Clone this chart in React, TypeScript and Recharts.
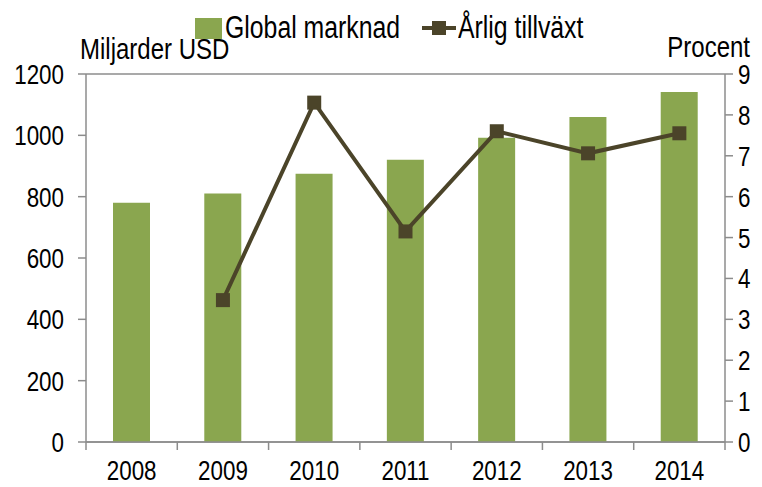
import React from 'react';
import { ComposedChart, Bar, Line, XAxis, YAxis, CartesianGrid, Legend } from 'recharts';

const years = ['2008', '2009', '2010', '2011', '2012', '2013', '2014'];
const marketValues = [780, 810, 875, 920, 992, 1060, 1141];
const growthValues = [null, 3.47, 8.3, 5.15, 7.6, 7.06, 7.55];
const leftTicks = [0, 200, 400, 600, 800, 1000, 1200];
const rightTicks = [0, 1, 2, 3, 4, 5, 6, 7, 8, 9];

const BAR_COLOR = '#8AA64F';
const LINE_COLOR = '#4B4429';
const GRID_COLOR = '#8C8C8C';
const FONT = '"Liberation Sans", Arial, sans-serif';
const SQUEEZE = 0.8; // the original font is condensed

const W = 762;
const H = 487;
const PLOT_LEFT = 86;
const PLOT_RIGHT = 725;
const BAND = (PLOT_RIGHT - PLOT_LEFT) / years.length;

const data = years.map((year, i) => ({
  year,
  market: marketValues[i],
  growth: growthValues[i],
}));

// narrow text: squeeze a normal sans horizontally
const NarrowText = ({ x, y, anchor = 'start', size = 28, dy = 0, children }: any) => (
  <text
    transform={`translate(${x},${y}) scale(${SQUEEZE},1)`}
    textAnchor={anchor}
    dy={dy}
    fontSize={size}
    fontFamily={FONT}
    fill="#000"
  >
    {children}
  </text>
);

// tick marks sit on category boundaries, labels in the middle
const XTick = (props: any) => {
  const { x, y, payload, index } = props;
  const half = BAND / 2;
  return (
    <g>
      <line x1={x - half} y1={y} x2={x - half} y2={y + 8} stroke={GRID_COLOR} strokeWidth={1.5} />
      {index === years.length - 1 && (
        <line x1={x + half} y1={y} x2={x + half} y2={y + 8} stroke={GRID_COLOR} strokeWidth={1.5} />
      )}
      <NarrowText x={x} y={y + 38} anchor="middle">
        {payload.value}
      </NarrowText>
    </g>
  );
};

const LeftTick = (props: any) => {
  const { x, y, payload } = props;
  return (
    <NarrowText x={x} y={y} dy={10} anchor="end">
      {payload.value}
    </NarrowText>
  );
};

const RightTick = (props: any) => {
  const { x, y, payload } = props;
  return (
    <NarrowText x={x} y={y} dy={10} anchor="start">
      {payload.value}
    </NarrowText>
  );
};

const SquareDot = (props: any) => {
  const { cx, cy } = props;
  if (cx == null || cy == null || props.value == null) return null;
  return <rect x={cx - 7} y={cy - 7} width={14} height={14} fill={LINE_COLOR} />;
};

const squeezed = { display: 'inline-block', transform: `scaleX(${SQUEEZE})`, transformOrigin: 'left center' };

const LegendContent = () => (
  <div style={{ display: 'flex', alignItems: 'center', fontFamily: FONT, fontSize: 31, color: '#000', whiteSpace: 'nowrap' }}>
    <span style={{ display: 'inline-block', width: 27, height: 21, background: BAR_COLOR, marginRight: 3 }} />
    <span style={{ display: 'inline-block', width: 197 }}>
      <span style={squeezed}>Global marknad</span>
    </span>
    <svg width={34} height={16} style={{ marginRight: 2 }}>
      <line x1={0} y1={8} x2={34} y2={8} stroke={LINE_COLOR} strokeWidth={4} />
      <rect x={10} y={1} width={14} height={14} fill={LINE_COLOR} />
    </svg>
    <span style={squeezed}>Årlig tillväxt</span>
  </div>
);

const LeftTitle = (props: any) => {
  const { viewBox } = props;
  return (
    <NarrowText x={viewBox.x + 80} y={viewBox.y - 15} size={30}>
      Miljarder USD
    </NarrowText>
  );
};

const RightTitle = (props: any) => {
  const { viewBox } = props;
  return (
    <NarrowText x={viewBox.x + 25} y={viewBox.y - 17} anchor="end" size={30}>
      Procent
    </NarrowText>
  );
};

const App = () => {
  return (
    <div style={{ position: 'absolute', left: 0, top: 0, width: W, height: H, background: '#fff' }}>
      <ComposedChart width={W} height={H} data={data} margin={{ top: 74, right: 0, bottom: 0, left: 0 }}>
        <CartesianGrid vertical={false} stroke={GRID_COLOR} strokeWidth={1.5} />
        <Legend
          verticalAlign="middle"
          align="center"
          content={<LegendContent />}
          wrapperStyle={{ top: 10, left: 195, width: 'auto' }}
        />
        <XAxis
          dataKey="year"
          height={45}
          tickSize={0}
          tickMargin={0}
          tick={<XTick />}
          interval={0}
          axisLine={{ stroke: GRID_COLOR, strokeWidth: 1.5 }}
          tickLine={false}
        />
        <YAxis
          yAxisId="left"
          width={86}
          domain={[0, 1200]}
          ticks={leftTicks}
          tickSize={8}
          tickMargin={14}
          tick={<LeftTick />}
          axisLine={{ stroke: GRID_COLOR, strokeWidth: 1.5 }}
          tickLine={{ stroke: GRID_COLOR, strokeWidth: 1.5 }}
          label={<LeftTitle />}
        />
        <YAxis
          yAxisId="right"
          orientation="right"
          width={37}
          domain={[0, 9]}
          ticks={rightTicks}
          tickSize={8}
          tickMargin={5}
          tick={<RightTick />}
          axisLine={{ stroke: GRID_COLOR, strokeWidth: 1.5 }}
          tickLine={{ stroke: GRID_COLOR, strokeWidth: 1.5 }}
          label={<RightTitle />}
        />
        <Bar yAxisId="left" dataKey="market" fill={BAR_COLOR} barSize={37} isAnimationActive={false} />
        <Line
          yAxisId="right"
          dataKey="growth"
          stroke={LINE_COLOR}
          strokeWidth={4}
          dot={<SquareDot />}
          activeDot={false}
          connectNulls={false}
          isAnimationActive={false}
        />
      </ComposedChart>
    </div>
  );
};

export default App;
